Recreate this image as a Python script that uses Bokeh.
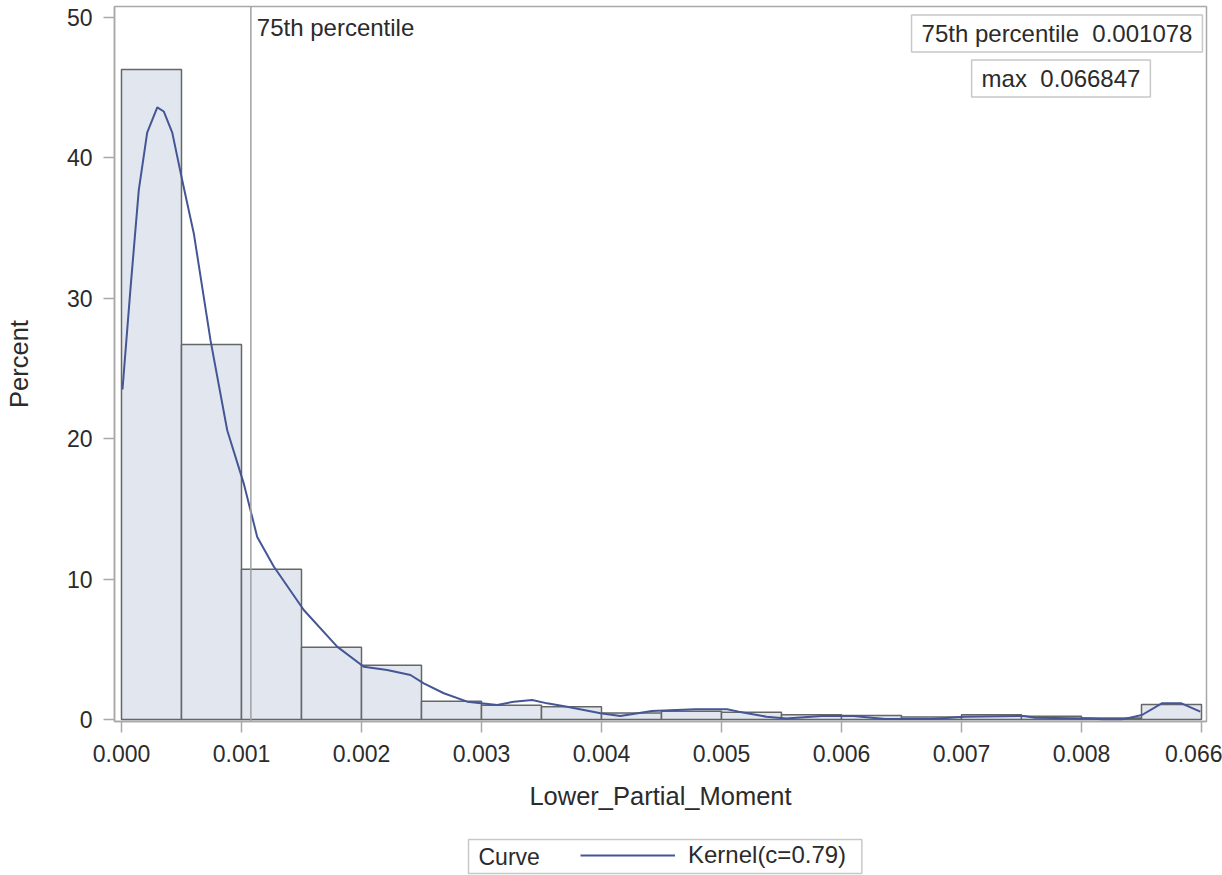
from bokeh.plotting import figure
from bokeh.layouts import column
from bokeh.models import Range1d, FixedTicker, Legend, LegendItem, Label, Span
from bokeh.embed import file_html
from bokeh.resources import INLINE

# ---------------- data ----------------
bin_left = [0.0000, 0.0005, 0.0010, 0.0015, 0.0020, 0.0025, 0.0030, 0.0035, 0.0040,
            0.0045, 0.0050, 0.0055, 0.0060, 0.0065, 0.0070, 0.0075, 0.0080, 0.0085]
bin_right = [0.0005, 0.0010, 0.0015, 0.0020, 0.0025, 0.0030, 0.0035, 0.0040, 0.0045,
             0.0050, 0.0055, 0.0060, 0.0065, 0.0070, 0.0075, 0.0080, 0.0085, 0.0090]
percent = [46.3, 26.7, 10.7, 5.15, 3.87, 1.3, 1.02, 0.9, 0.47,
           0.59, 0.52, 0.33, 0.28, 0.17, 0.34, 0.24, 0.1, 1.07]

kernel_x = [0.0000083, 0.000075, 0.000144, 0.000214, 0.000298, 0.000353, 0.000423, 0.000506,
            0.000603, 0.000742, 0.000881, 0.001019, 0.001131, 0.001269, 0.001519, 0.001797,
            0.002019, 0.002214, 0.002408, 0.002519, 0.002686, 0.002881, 0.003131, 0.003269,
            0.003422, 0.003547, 0.003714, 0.003992, 0.004157, 0.00442, 0.004783, 0.005046,
            0.005144, 0.005375, 0.00554, 0.005836, 0.0061, 0.006363, 0.006758, 0.007022,
            0.007516, 0.007615, 0.008075, 0.008175, 0.008339, 0.008504, 0.008669, 0.008833,
            0.00899]
kernel_y = [23.5, 30.7, 37.7, 41.8, 43.6, 43.3, 41.8, 38.4,
            34.6, 27.0, 20.6, 16.8, 13.0, 10.9, 7.8, 5.19,
            3.76, 3.52, 3.17, 2.58, 1.87, 1.27, 1.03, 1.27,
            1.39, 1.15, 0.91, 0.44, 0.25, 0.6, 0.73, 0.73,
            0.56, 0.2, 0.08, 0.25, 0.25, 0.04, 0.04, 0.2,
            0.25, 0.12, 0.08, 0.01, 0.01, 0.32, 1.15, 1.15,
            0.56]

x_tick_values = [0.0, 0.001, 0.002, 0.003, 0.004, 0.005, 0.006, 0.007, 0.008, 0.009]
x_tick_labels = ["0.000", "0.001", "0.002", "0.003", "0.004", "0.005", "0.006", "0.007", "0.008", "0.066"]
y_tick_values = [0, 10, 20, 30, 40, 50]

p75_value = 0.001078
inset_names = ["75th percentile", "max"]
inset_values = ["0.001078", "0.066847"]
legend_title = "Curve"
legend_label = "Kernel(c=0.79)"

# ---------------- style ----------------
FONT = "Liberation Sans"
TXT = "#2b2b2b"
GRAY = "#a9a9a9"
BOXGRAY = "#c8c8c8"
KCOLOR = "#445694"
W = 1222
ML, MR = 114, 16

p = figure(width=W, height=821, output_backend="svg", toolbar_location=None,
           x_range=Range1d(-0.0000583, 0.0090417), y_range=Range1d(-0.142, 50.78),
           min_border_left=ML, min_border_right=MR, min_border_top=6, min_border_bottom=100)
p.background_fill_color = "white"
p.border_fill_color = "white"
p.outline_line_color = GRAY
p.outline_line_width = 1.5
p.grid.visible = False

p.quad(left=bin_left, right=bin_right, bottom=0, top=percent,
       fill_color="#e1e6ef", line_color="#666666", line_width=1.5)

ref = Span(location=p75_value, dimension="height", line_color="#a0a0a0", line_width=1.5)
p.add_layout(ref)

kern = p.line(kernel_x, kernel_y, line_color=KCOLOR, line_width=2)

# axes
for ax in (p.xaxis[0], p.yaxis[0]):
    ax.axis_line_color = GRAY
    ax.axis_line_width = 1.5
    ax.major_tick_line_color = GRAY
    ax.major_tick_line_width = 1.5
    ax.major_tick_out = 11
    ax.major_tick_in = 0
    ax.minor_tick_out = 0
    ax.minor_tick_in = 0
    ax.major_label_text_font = FONT
    ax.major_label_text_font_size = "23px"
    ax.major_label_text_color = TXT
    ax.axis_label_text_font = FONT
    ax.axis_label_text_font_size = "25.5px"
    ax.axis_label_text_font_style = "normal"
    ax.axis_label_text_color = TXT

p.xaxis.ticker = FixedTicker(ticks=x_tick_values)
p.xaxis.major_label_overrides = {v: lab for v, lab in zip(x_tick_values, x_tick_labels)}
p.xaxis.axis_label = "Lower_Partial_Moment"
p.xaxis.major_label_standoff = 12
p.xaxis.axis_label_standoff = 17

p.yaxis.ticker = FixedTicker(ticks=y_tick_values)
p.yaxis.axis_label = "Percent"
p.yaxis.major_label_standoff = 11
p.yaxis.axis_label_standoff = 31

# reference line label
p.add_layout(Label(x=p75_value, y=49.28, x_offset=6, text=inset_names[0],
                   text_font=FONT, text_font_size="24px", text_color=TXT,
                   text_align="left", text_baseline="middle"))

# inset boxes
p.add_layout(Label(x=0.0077958, y=48.86,
                   text=inset_names[0] + "\u00a0\u00a0" + inset_values[0],
                   text_font=FONT, text_font_size="24px", text_color=TXT,
                   text_align="center", text_baseline="middle",
                   border_line_color=BOXGRAY, border_line_width=1.5,
                   background_fill_color="white", padding=(10, 5)))
p.add_layout(Label(x=0.0078292, y=45.65,
                   text=inset_names[1] + "\u00a0\u00a0" + inset_values[1],
                   text_font=FONT, text_font_size="24px", text_color=TXT,
                   text_align="center", text_baseline="middle",
                   border_line_color=BOXGRAY, border_line_width=1.5,
                   background_fill_color="white", padding=(10, 5)))

# ---------------- legend strip ----------------
LH = 54
q = figure(width=W, height=LH, output_backend="svg", toolbar_location=None,
           x_range=Range1d(ML, W - MR), y_range=Range1d(LH, 0),
           x_axis_location=None, y_axis_location=None,
           min_border_left=ML, min_border_right=MR,
           min_border_top=0, min_border_bottom=0)
q.outline_line_color = None
q.grid.visible = False
q.background_fill_color = "white"
q.border_fill_color = "white"

q.add_layout(Label(x=468, y=35, text=legend_title,
                   text_font=FONT, text_font_size="23px", text_color=TXT,
                   text_align="left", text_baseline="middle",
                   border_line_color=BOXGRAY, border_line_width=1.5,
                   background_fill_color="white",
                   padding=dict(left=10, right=322, top=4, bottom=4)))

# key line for the legend (same kernel data; lies outside this strip's range)
kern_key = q.line(kernel_x, kernel_y, line_color=KCOLOR, line_width=2)
legend = Legend(items=[LegendItem(label=legend_label, renderers=[kern_key])],
                orientation="horizontal", location=(580 - ML, 6))
legend.label_text_font = FONT
legend.label_text_font_size = "24px"
legend.label_text_color = TXT
legend.label_standoff = 13
legend.glyph_width = 95
legend.glyph_height = 20
legend.label_height = 20
legend.padding = 0
legend.spacing = 0
legend.margin = 0
legend.border_line_color = None
legend.background_fill_alpha = 0
q.add_layout(legend, "center")

layout = column(p, q, spacing=0)
open("out.html", "w").write(file_html(layout, INLINE))
